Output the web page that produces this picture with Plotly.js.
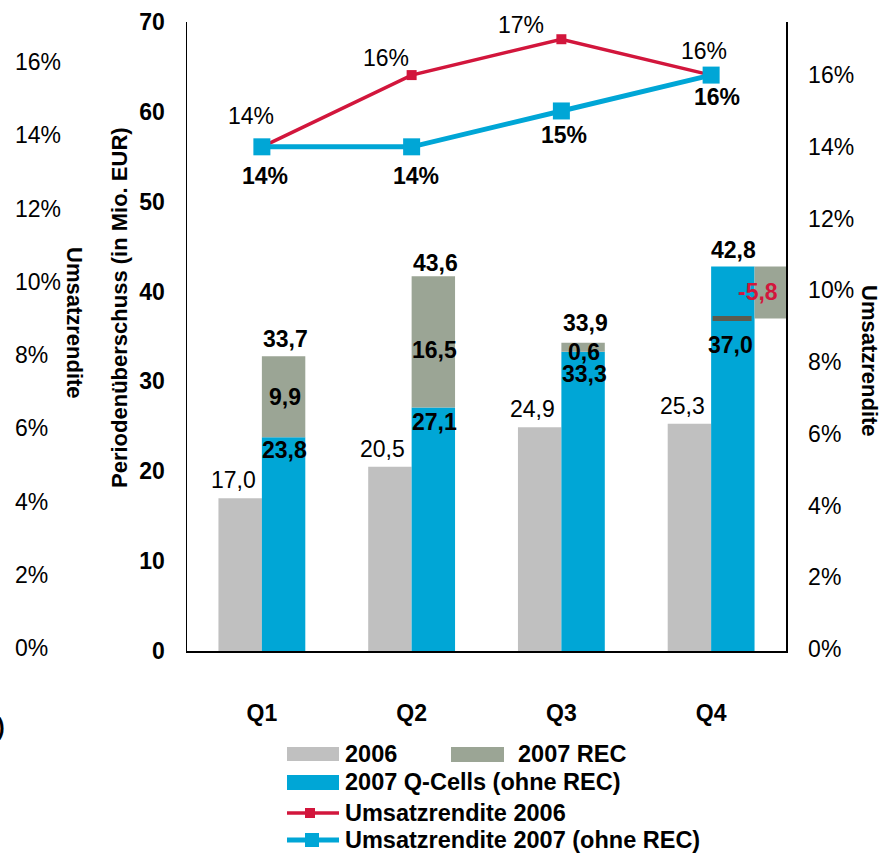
<!DOCTYPE html>
<html><head><meta charset="utf-8">
<script src="https://cdn.plot.ly/plotly-3.0.1.min.js"></script>
<style>html,body{margin:0;padding:0;background:#fff}#chart{width:881px;height:854px}</style>
</head><body><div id="chart"></div>
<script>
// ---- data ----
const quarters = ['Q1', 'Q2', 'Q3', 'Q4'];
const profit2006 = [17.0, 20.5, 24.9, 25.3];
const qcells2007 = [23.8, 27.1, 33.3, 42.8];
const recBase = [23.8, 27.1, 33.3, 37.0];
const recDrawn = [9.0, 14.6, 1.0, 5.8];
const recValues = [9.9, 16.5, 0.6, -5.8];
const totals2007 = [33.7, 43.6, 33.9, 37.0];
const margin2006 = [0.14, 0.16, 0.17, 0.16];
const margin2007 = [0.14, 0.14, 0.15, 0.16];

// ---- styling ----
const FONT = '"Liberation Sans", Arial, Helvetica, sans-serif';
const C2006 = '#c0c0c0', CBLUE = '#00a6d6', CREC = '#9ba595', CRED = '#d2163c';
const W = 881, H = 854, ML = 0, MR = 95, MT = 22, MB = 203;
const PW = W - ML - MR, PH = H - MT - MB;
const px = v => (v - ML) / PW;
const py = v => (H - MB - v) / PH;
const BW = 0.29;
const FS = 23;
const fmt = v => v.toFixed(1).replace('.', ',');
const pct = v => Math.round(v * 100) + '%';

const traces = [
  {type: 'bar', x: quarters, y: profit2006, offset: -BW, width: BW,
   marker: {color: C2006}, name: '2006', showlegend: false, hoverinfo: 'none'},
  {type: 'bar', x: quarters, y: qcells2007, offset: 0, width: BW,
   marker: {color: CBLUE}, name: '2007 Q-Cells (ohne REC)', showlegend: false, hoverinfo: 'none'},
  {type: 'bar', x: quarters, y: recDrawn, base: recBase,
   offset: [0, 0, 0, BW], width: BW,
   marker: {color: CREC}, name: '2007 REC', showlegend: false, hoverinfo: 'none'},
  {type: 'scatter', mode: 'lines+markers', x: quarters, y: margin2006, yaxis: 'y2',
   line: {color: CRED, width: 3.5}, marker: {symbol: 'square', size: 10, color: CRED},
   name: 'Umsatzrendite 2006', showlegend: false, hoverinfo: 'none', cliponaxis: false},
  {type: 'scatter', mode: 'lines+markers', x: quarters, y: margin2007, yaxis: 'y2',
   line: {color: CBLUE, width: 5}, marker: {symbol: 'square', size: 17, color: CBLUE},
   name: 'Umsatzrendite 2007 (ohne REC)', showlegend: false, hoverinfo: 'none', cliponaxis: false}
];

const ann = [];
function lab(x, y, text, opt) {
  opt = opt || {};
  ann.push({x: x, y: y, xref: opt.xref || 'x', yref: opt.yref || 'y', text: text, showarrow: false,
    xanchor: opt.xanchor || 'center', yanchor: opt.yanchor || 'middle',
    xshift: opt.dx || 0, yshift: opt.dy || 0, textangle: opt.angle || 0,
    font: {family: FONT, size: opt.size || FS, color: opt.color || '#000', weight: opt.bold ? 'bold' : 'normal'}});
}

// 2006 labels
profit2006.forEach((v, i) => lab(i - BW / 2, v, fmt(v), {dx: -7, dy: 18}));
// Q-Cells labels
const qcDy = [-13, -15, -22, 16];
qcells2007.forEach((v, i) => lab(i + BW / 2, v, fmt(v), {dx: 1, dy: qcDy[i], bold: true}));
// REC labels
const recDy = [0, -8, 0, 0];
recValues.forEach((v, i) => {
  const yPos = i === 2 ? recBase[i] : recBase[i] + recDrawn[i] / 2;
  const xPos = i === 3 ? i + BW * 1.5 : i + BW / 2;
  lab(xPos, yPos, fmt(v), {dx: i === 3 ? -18 : 1, dy: recDy[i], bold: true, color: v < 0 ? CRED : '#000'});
});
// totals
totals2007.forEach((v, i) => {
  if (i < 3) {
    const top = recBase[i] + recDrawn[i];
    const dys = [17.5, 13.5, 20];
    lab(i + BW / 2, top, fmt(v), {dx: 2, dy: dys[i], bold: true});
  } else {
    lab(i + BW / 2, v, fmt(v), {dx: -2, dy: -26, bold: true});
  }
});
// line labels
const redOff = [[-11, 31], [-26, 17], [-40, 14], [-7, 24]];
margin2006.forEach((v, i) => lab(i, v, pct(v), {yref: 'y2', dx: redOff[i][0], dy: redOff[i][1]}));
const blueOff = [[3.5, -29.5], [4.5, -29.5], [3, -24], [5.5, -22]];
margin2007.forEach((v, i) => lab(i, v, pct(v), {yref: 'y2', dx: blueOff[i][0], dy: blueOff[i][1], bold: true}));

// axis titles
lab(px(119), py(308), 'Periodenüberschuss (in Mio. EUR)', {xref: 'paper', yref: 'paper', angle: -90, bold: true, size: 22});
lab(px(75), py(323), 'Umsatzrendite', {xref: 'paper', yref: 'paper', angle: 90, bold: true, size: 22});
lab(px(870), py(361), 'Umsatzrendite', {xref: 'paper', yref: 'paper', angle: 90, bold: true, size: 22});
lab(px(7), py(727), ')', {xref: 'paper', yref: 'paper', xanchor: 'right', bold: true});

// manual legend
const shapes = [];
function rect(x0, x1, y0, y1, color) {
  shapes.push({type: 'rect', xref: 'paper', yref: 'paper', x0: px(x0), x1: px(x1), y0: py(y1), y1: py(y0),
    fillcolor: color, line: {width: 0}});
}
function hline(x0, x1, y, color, w) {
  shapes.push({type: 'line', xref: 'paper', yref: 'paper', x0: px(x0), x1: px(x1), y0: py(y), y1: py(y),
    line: {color: color, width: w}});
}
const LFS = 23.5;
rect(287, 339, 747, 761, C2006);
lab(px(343), py(754), '2006', {xref: 'paper', yref: 'paper', xanchor: 'left', bold: true, size: LFS});
rect(451, 504, 747, 762, CREC);
lab(px(516), py(754), '2007 REC', {xref: 'paper', yref: 'paper', xanchor: 'left', bold: true, size: LFS});
rect(287, 339, 775, 790, CBLUE);
lab(px(343), py(782), '2007 Q-Cells (ohne REC)', {xref: 'paper', yref: 'paper', xanchor: 'left', bold: true, size: LFS});
hline(287, 339, 813, CRED, 3.5);
rect(305, 315, 808, 818, CRED);
lab(px(343), py(813), 'Umsatzrendite 2006', {xref: 'paper', yref: 'paper', xanchor: 'left', bold: true, size: LFS});
hline(287, 339, 840, CBLUE, 5);
rect(305, 319, 833, 847, CBLUE);
lab(px(343), py(840), 'Umsatzrendite 2007 (ohne REC)', {xref: 'paper', yref: 'paper', xanchor: 'left', bold: true, size: LFS});

// total marker line in Q4
shapes.push({type: 'line', xref: 'x', yref: 'y', x0: 3 + 0.01, x1: 3 + 0.27, y0: totals2007[3], y1: totals2007[3],
  line: {color: '#5b5b4e', width: 5}});

const tickBold = {family: FONT, size: FS, color: '#000', weight: 'bold'};
const tickNorm = {family: FONT, size: FS, color: '#000'};

const layout = {
  width: W, height: H,
  margin: {l: ML, r: MR, t: MT, b: MB, pad: 0},
  paper_bgcolor: '#fff', plot_bgcolor: 'rgba(0,0,0,0)',
  barmode: 'overlay', showlegend: false,
  font: {family: FONT},
  xaxis: {type: 'category', domain: [px(187), 1], range: [-0.5, 3.5],
    showline: true, linecolor: '#000', linewidth: 1.5, showgrid: false, zeroline: false,
    ticks: 'outside', ticklen: 41, tickcolor: 'rgba(0,0,0,0)', tickfont: tickBold, fixedrange: true},
  yaxis: {range: [0, 70], dtick: 10, showline: true, linecolor: '#000', linewidth: 1.5,
    showgrid: false, zeroline: false, ticks: 'outside', ticklen: 16, tickcolor: 'rgba(0,0,0,0)',
    tickfont: tickBold},
  yaxis2: {overlaying: 'y', side: 'right', anchor: 'x', range: [-0.00056, 0.1748], dtick: 0.02,
    tickformat: '.0%', showline: true, linecolor: '#000', linewidth: 1.5, showgrid: false, zeroline: false,
    ticks: 'outside', ticklen: 16, tickcolor: 'rgba(0,0,0,0)', tickfont: tickNorm},
  yaxis3: {overlaying: 'y', side: 'right', anchor: 'free', position: px(14),
    range: [-0.00082, 0.1709], dtick: 0.02, tickformat: '.0%', showline: false, showgrid: false,
    zeroline: false, ticks: '', tickfont: tickNorm},
  annotations: ann,
  shapes: shapes
};

// invisible trace so that the far-left percentage axis is drawn
traces.push({type: 'scatter', x: quarters, y: [null, null, null, null], yaxis: 'y3', showlegend: false, hoverinfo: 'none'});

Plotly.newPlot('chart', traces, layout, {displayModeBar: false, staticPlot: true});
</script>
</body></html>
